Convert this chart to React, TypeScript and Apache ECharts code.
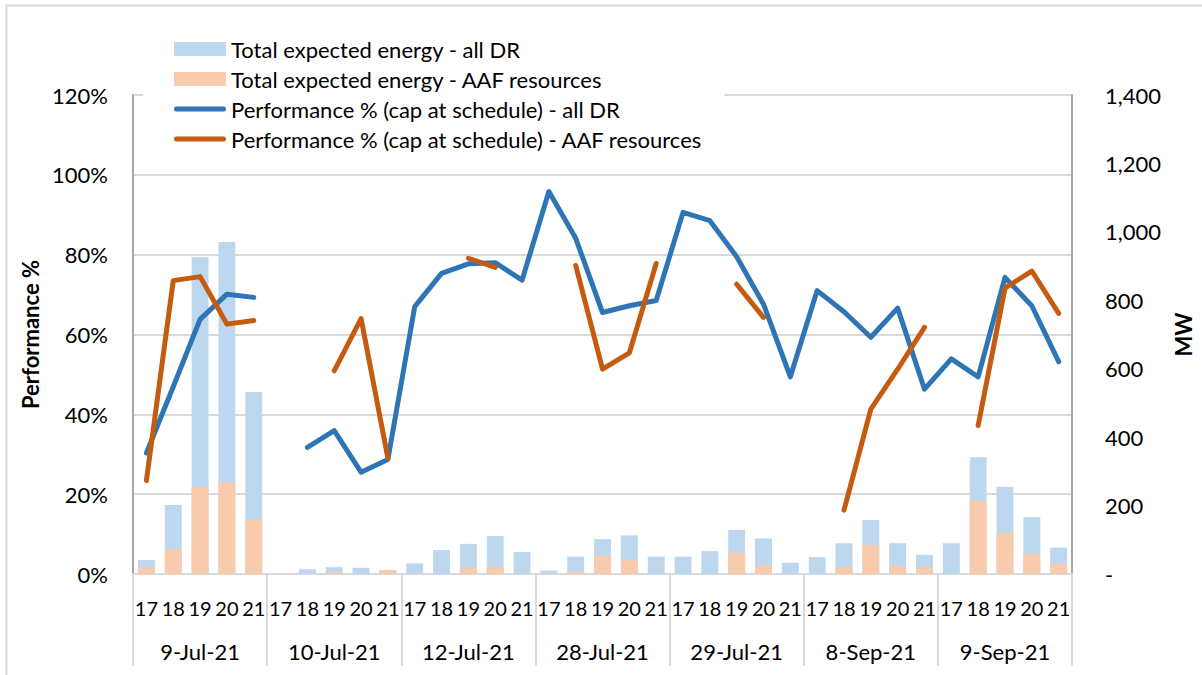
import React, { useEffect, useRef } from "react";
import * as echarts from "echarts";

const hours = ["17", "18", "19", "20", "21"];
const dates = ["9-Jul-21", "10-Jul-21", "12-Jul-21", "28-Jul-21", "29-Jul-21", "8-Sep-21", "9-Sep-21"];

const energyAllDR = [41, 202, 926, 970, 532, 0, 14, 20, 18, 12, 31, 70, 88, 111, 64, 10, 51, 102, 113, 51, 51, 67, 129, 104, 33, 49, 90, 158, 90, 56, 90, 341, 255, 166, 77];
const energyAAF = [21, 72, 253, 269, 160, 0, 0, 5, 0, 12, 0, 0, 18, 20, 0, 0, 7, 53, 41, 0, 0, 0, 62, 26, 0, 0, 21, 85, 23, 20, 0, 214, 119, 58, 29];
const perfAllDR = [30.3, 46.9, 63.8, 70.1, 69.3, null, 31.7, 35.9, 25.5, 28.7, 67.0, 75.3, 77.7, 78.0, 73.6, 95.8, 84.1, 65.5, 67.2, 68.5, 90.6, 88.5, 79.5, 67.6, 49.4, 71.0, 65.7, 59.3, 66.6, 46.3, 53.9, 49.4, 74.3, 67.2, 53.2];
const perfAAF = [23.4, 73.5, 74.5, 62.6, 63.5, null, null, 50.9, 64.0, 29.0, null, null, 79.1, 76.8, null, null, 77.3, 51.3, 55.4, 77.8, null, null, 72.6, 64.3, null, null, 16.0, 41.3, 51.3, 61.8, null, 37.2, 71.6, 75.9, 65.3];

const hourCategories: string[] = [];
dates.forEach(() => hours.forEach((h) => hourCategories.push(h)));

const FONT = "Lato";
const LINE_ICON = "path://M2.5,0 L49.5,0 A2.5,2.5 0 0 1 49.5,5 L2.5,5 A2.5,2.5 0 0 1 2.5,0 Z";

export default function App() {
  const ref = useRef<HTMLDivElement>(null);
  useEffect(() => {
    if (!ref.current) return;
    const chart = echarts.init(ref.current, null, { renderer: "svg" });
    chart.setOption({
      animation: false,
      backgroundColor: "#fff",
      textStyle: { fontFamily: FONT, color: "#000" },
      graphic: [
        {
          type: "rect",
          shape: { x: 6.5, y: 5.5, width: 1300, height: 800 },
          style: { fill: "none", stroke: "#d9d9d9", lineWidth: 2 },
          z: -10,
          silent: true,
        },
      ],
      legend: {
        orient: "vertical",
        left: 143,
        top: 32,
        padding: [6, 22, 6, 31],
        backgroundColor: "#fff",
        itemGap: 8,
        itemWidth: 52,
        itemHeight: 14,
        z: 20,
        textStyle: { fontFamily: FONT, fontSize: 22, color: "#000", lineHeight: 22 },
        data: [
          { name: "Total expected energy - all DR", icon: "rect" },
          { name: "Total expected energy - AAF resources", icon: "rect" },
          { name: "Performance % (cap at schedule) - all DR", icon: LINE_ICON, itemStyle: { color: "#2E75B6" } },
          { name: "Performance % (cap at schedule) - AAF resources", icon: LINE_ICON, itemStyle: { color: "#C55A11" } },
        ],
      },
      grid: { left: 133, right: 125, top: 95, bottom: 101, containLabel: false },
      xAxis: [
        {
          type: "category",
          data: hourCategories,
          position: "bottom",
          axisLine: { show: true, lineStyle: { color: "#d9d9d9", width: 2 } },
          axisTick: { show: false },
          axisLabel: { interval: 0, fontSize: 20, fontFamily: FONT, color: "#000", margin: 24 },
        },
        {
          type: "category",
          data: dates,
          position: "bottom",
          axisLine: { show: false },
          axisTick: { show: true, interval: 0, length: 92, lineStyle: { color: "#d9d9d9", width: 2 } },
          axisLabel: { interval: 0, fontSize: 22, fontFamily: FONT, color: "#000", margin: 66 },
        },
      ],
      yAxis: [
        {
          type: "value",
          min: 0,
          max: 120,
          interval: 20,
          name: "Performance %",
          nameLocation: "middle",
          nameRotate: 90,
          nameGap: 87,
          nameTextStyle: { fontSize: 22, fontWeight: "bold", fontFamily: FONT, color: "#000" },
          axisLine: { show: true, lineStyle: { color: "#a6a6a6", width: 2 } },
          axisTick: { show: false },
          axisLabel: { formatter: "{value}%", fontSize: 22, fontFamily: FONT, color: "#000", margin: 25 },
          splitLine: { show: true, lineStyle: { color: "#d9d9d9", width: 2 } },
        },
        {
          type: "value",
          min: 0,
          max: 1400,
          interval: 200,
          position: "right",
          name: "MW",
          nameLocation: "middle",
          nameRotate: 90,
          nameGap: 87,
          nameTextStyle: { fontSize: 22, fontWeight: "bold", fontFamily: FONT, color: "#000" },
          axisLine: { show: true, lineStyle: { color: "#a6a6a6", width: 2 } },
          axisTick: { show: false },
          axisLabel: {
            fontSize: 22,
            fontFamily: FONT,
            color: "#000",
            margin: 33,
            formatter: (v: number) => (v === 0 ? "-" : v.toLocaleString("en-US")),
          },
          splitLine: { show: false },
        },
      ],
      series: [
        {
          name: "Total expected energy - all DR",
          type: "bar",
          xAxisIndex: 0,
          yAxisIndex: 1,
          data: energyAllDR,
          barWidth: "63%",
          barGap: "-100%",
          itemStyle: { color: "#BDD7EE" },
          z: 2,
        },
        {
          name: "Total expected energy - AAF resources",
          type: "bar",
          xAxisIndex: 0,
          yAxisIndex: 1,
          data: energyAAF,
          barWidth: "63%",
          barGap: "-100%",
          itemStyle: { color: "#F8CBAD" },
          z: 3,
        },
        {
          name: "Performance % (cap at schedule) - all DR",
          type: "line",
          xAxisIndex: 0,
          yAxisIndex: 0,
          data: perfAllDR,
          symbol: "none",
          connectNulls: false,
          lineStyle: { color: "#2E75B6", width: 5, cap: "round", join: "round" },
          itemStyle: { color: "#2E75B6" },
          z: 4,
        },
        {
          name: "Performance % (cap at schedule) - AAF resources",
          type: "line",
          xAxisIndex: 0,
          yAxisIndex: 0,
          data: perfAAF,
          symbol: "none",
          connectNulls: false,
          lineStyle: { color: "#C55A11", width: 5, cap: "round", join: "round" },
          itemStyle: { color: "#C55A11" },
          z: 5,
        },
      ],
    });
    return () => chart.dispose();
  }, []);
  return (
    <div
      ref={ref}
      style={{ position: "fixed", left: 0, top: 0, width: 1202, height: 675, background: "#fff" }}
    />
  );
}
